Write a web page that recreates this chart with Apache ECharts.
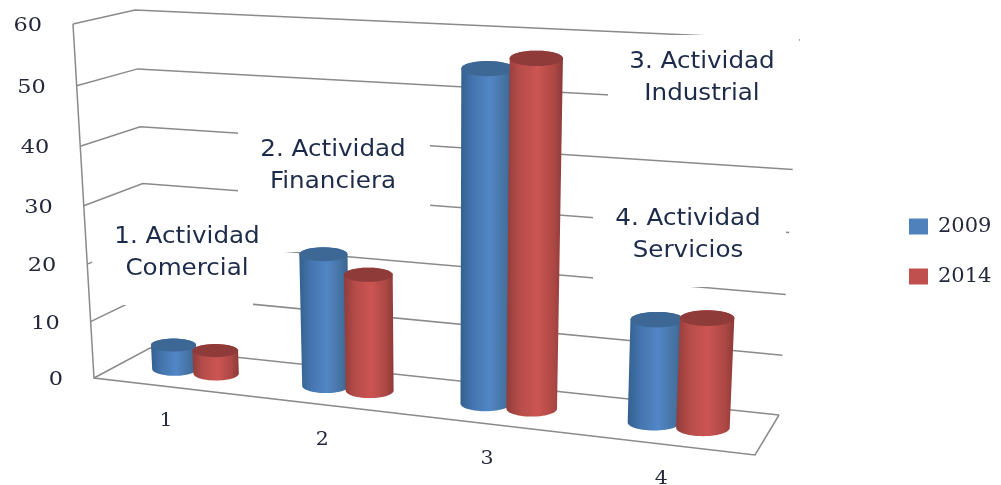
<!DOCTYPE html>
<html>
<head>
<meta charset="utf-8">
<style>html,body{margin:0;padding:0;background:#fff}#c{width:1001px;height:485px;filter:blur(0.4px)}</style>
<script src="https://cdn.jsdelivr.net/npm/echarts@6/dist/echarts.min.js"></script>
</head>
<body>
<div id="c"></div>
<script>
const categories = ['1', '2', '3', '4'];
const yTicks = [0, 10, 20, 30, 40, 50, 60];
const values2009 = [4.3, 22.8, 55, 17];
const values2014 = [4.1, 20, 57, 18];
const notes = [
  ['1. Actividad', 'Comercial'],
  ['2. Actividad', 'Financiera'],
  ['3. Actividad', 'Industrial'],
  ['4. Actividad', 'Servicios']
];

// ---- layout of the pseudo-3D box (picture space) ----
const C = {
  f0l:[94,378], f0r:[755,455], b0l:[150,348], b0r:[779,415],
  f1l:[73,24],  f1r:[770,63],  b1l:[135,10],  b1r:[800,40]
};
const KU = 0.115, KV = 0.055, YMAX = 60;
const warp = (t, k) => t / (1 + k * (1 - t));
const lerp = (a, b, t) => [a[0] + (b[0]-a[0])*t, a[1] + (b[1]-a[1])*t];
function project(u, d, v) {
  const a = warp(u, KU), h = warp(v, KV);
  const f = lerp(lerp(C.f0l, C.f0r, a), lerp(C.f1l, C.f1r, a), h);
  const b = lerp(lerp(C.b0l, C.b0r, a), lerp(C.b1l, C.b1r, a), h);
  return lerp(f, b, d);
}
function norm(api, params, x, y) {
  const p = api.coord([x, y]), cs = params.coordSys;
  return [(p[0]-cs.x)/cs.width, 1 - (p[1]-cs.y)/cs.height];
}
const LINE = {stroke:'#8a8a8a', lineWidth:1.5, fill:null};
const TXT = '#23283a', NOTE = '#1d2b4a';
const SERIF = '"DejaVu Serif"', SANS = '"DejaVu Sans"';

function renderWall(params, api) {
  const val = api.value(0);
  const v = norm(api, params, 0, val)[1];
  const kids = [{type:'polyline', shape:{points:[project(0,0,v), project(0,1,v), project(1,1,v)]}, style:LINE}];
  if (params.dataIndex === 0) {
    kids.push({type:'polyline', shape:{points:[project(0,0,1), project(0,0,0), project(1,0,0), project(1,1,0)]}, style:LINE});
  }
  const a = project(0,0,v);
  kids.push({type:'text', x:a[0]-31, y:a[1]+2, scaleX:1.18,
    style:{text:String(val), align:'right', verticalAlign:'middle', font:'19px '+SERIF, fill:TXT}});
  return {type:'group', children:kids};
}
function renderCat(params, api) {
  const u = norm(api, params, api.value(0), 0)[0];
  const a = project(u,0,0);
  return {type:'text', x:a[0]-3, y:a[1]+35, scaleX:1.14,
    style:{text:categories[api.value(0)], align:'center', verticalAlign:'middle', font:'18px '+SERIF, fill:TXT}};
}
function ellipsePts(c, rx, ry, from, to) {
  const out = [];
  for (let i = 0; i <= 28; i++) {
    const t = from + (to-from)*i/28;
    out.push([c[0] + rx*Math.cos(t), c[1] + ry*Math.sin(t)]);
  }
  return out;
}
function cylinder(off, stops, topColor) {
  return function (params, api) {
    const n = norm(api, params, api.value(0), api.value(1));
    const bw = api.size([1,0])[0] / params.coordSys.width;
    const u = n[0] + off*bw, r = 0.152*bw, v = n[1];
    const b = project(u,0.5,0), t = project(u,0.5,v);
    const rb = (project(u+r,0.5,0)[0] - project(u-r,0.5,0)[0]) / 2;
    const rt = (project(u+r,0.5,v)[0] - project(u-r,0.5,v)[0]) / 2;
    const ryb = rb*0.31, ryt = rt*0.29;
    const body = ellipsePts(b, rb, ryb, 0, Math.PI).concat(ellipsePts(t, rt, ryt, Math.PI, 2*Math.PI));
    return {type:'group', children:[
      {type:'polygon', shape:{points:body},
       style:{fill:new echarts.graphic.LinearGradient(0,0,1,0,stops)}},
      {type:'polygon', shape:{points:ellipsePts(t, rt, ryt, 0, 2*Math.PI)}, style:{fill:topColor}}
    ]};
  };
}
const blueStops = [{offset:0,color:'#33608f'},{offset:.22,color:'#4474ad'},{offset:.55,color:'#5286c6'},{offset:.85,color:'#44719f'},{offset:1,color:'#37608e'}];
const redStops  = [{offset:0,color:'#903c3a'},{offset:.22,color:'#b54c49'},{offset:.55,color:'#cc5552'},{offset:.85,color:'#ab4744'},{offset:1,color:'#8c3a38'}];

// white plates behind the four notes; they interrupt the gridlines
const plates = [[92,210,161,95],[238,130,192,122],[608,35,191,115],[593,190,193,97]];
const noteAnchors = [[187,237],[333,150],[702,62],[688,219]];
const graphicEls = [];
plates.forEach(p => graphicEls.push({type:'rect', z:2, silent:true,
  shape:{x:p[0],y:p[1],width:p[2],height:p[3]}, style:{fill:'#fff'}}));
notes.forEach((lines,i) => lines.forEach((s,j) => graphicEls.push({type:'text', z:20, silent:true,
  x:noteAnchors[i][0], y:noteAnchors[i][1]+j*32, scaleX:1.07,
  style:{text:s, align:'center', verticalAlign:'middle', font:'23px '+SANS, fill:NOTE}})));

const chart = echarts.init(document.getElementById('c'), null, {renderer:'canvas'});
chart.setOption({
  animation:false,
  backgroundColor:'#fff',
  grid:{left:0,right:0,top:0,bottom:0},
  xAxis:{type:'category', data:categories, show:false},
  yAxis:{type:'value', min:0, max:YMAX, interval:10, show:false},
  legend:{orient:'vertical', left:909, top:216, itemWidth:19, itemHeight:16, itemGap:29, icon:'rect', padding:0,
    data:['2009','2014'], textStyle:{fontFamily:'DejaVu Serif', fontSize:21, color:TXT, padding:[0,0,0,5]}, itemStyle:{borderWidth:0}},
  graphic:{elements:graphicEls},
  series:[
    {type:'custom', name:'walls', z:1, clip:false, silent:true, data:yTicks.map(t=>[t]), encode:{y:0}, renderItem:renderWall},
    {type:'custom', name:'cats', z:1, clip:false, silent:true, data:categories.map((c,i)=>[i]), encode:{x:0}, renderItem:renderCat},
    {type:'custom', name:'2009', z:5, clip:false, itemStyle:{color:'#4f81bd'}, data:values2009.map((v,i)=>[i,v]), encode:{x:0,y:1},
      renderItem:cylinder(-0.14, blueStops, '#3d6794')},
    {type:'custom', name:'2014', z:6, clip:false, itemStyle:{color:'#c0504d'}, data:values2014.map((v,i)=>[i,v]), encode:{x:0,y:1},
      renderItem:cylinder(0.14, redStops, '#8f3b39')}
  ]
});
</script>
</body>
</html>
